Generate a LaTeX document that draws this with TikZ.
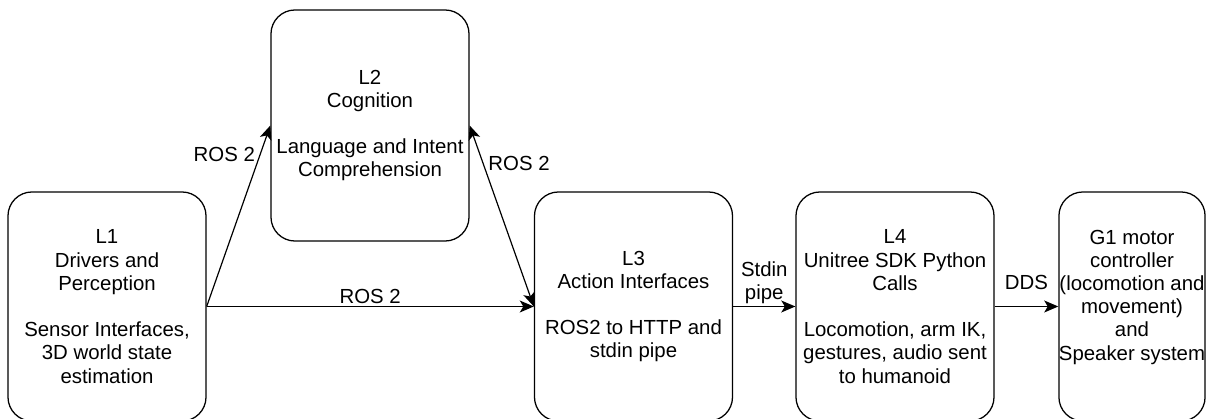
\documentclass[tikz,border=0pt]{standalone}
\usepackage{fontspec}
\setmainfont{Liberation Sans}
\usetikzlibrary{arrows.meta,positioning}

\begin{document}
\begin{tikzpicture}[x=0.025cm, y=-0.025cm, >={Stealth[length=10pt,width=8.5pt,inset=2.5pt]},
  font=\fontsize{14.5}{16.5}\selectfont,
  layerbox/.style={draw, line width=0.9pt, rounded corners=0.6cm, align=center,
    minimum width=4.95cm, minimum height=5.725cm, inner sep=0pt},
  link/.style={->, line width=0.85pt}]
  \useasboundingbox (0,0) rectangle (1206,419);
  % layers
  \node[layerbox] (l1) at (107,306.5) {L1\\Drivers and\\Perception\\ ~\\Sensor Interfaces,\\3D world state\\estimation};
  \node[layerbox, minimum height=5.775cm] (l2) at (370,125.5) {L2\\Cognition\\ ~\\Language and Intent\\Comprehension};
  \node[layerbox] (l3) at (633.5,306.5) {L3\\Action Interfaces\\ ~\\ROS2 to HTTP and\\stdin pipe};
  \node[layerbox] (l4) at (895,306.5) {L4\\Unitree SDK Python\\Calls\\ ~\\Locomotion, arm IK,\\gestures, audio sent\\to humanoid};
  \node[layerbox, minimum width=3.65cm] (g1) at (1132,306.5) {G1 motor\\controller\\(locomotion and\\movement)\\and\\Speaker system\\ ~};
  % links
  \draw[link] (l1.east) -- node[pos=0.84, left] {ROS 2} (l2.west);
  \draw[link] (l1.east) -- node[midway, yshift=7pt] {ROS 2} (l3.west);
  \draw[link, <->] (l2.east) -- node[pos=0.21, right] {ROS 2} (l3.west);
  \draw[link] (l3.east) -- node[midway, yshift=17pt, align=center] {Stdin\\pipe} (l4.west);
  \draw[link] (l4.east) -- node[midway, yshift=17pt] {DDS} (g1.west);
\end{tikzpicture}
\end{document}
